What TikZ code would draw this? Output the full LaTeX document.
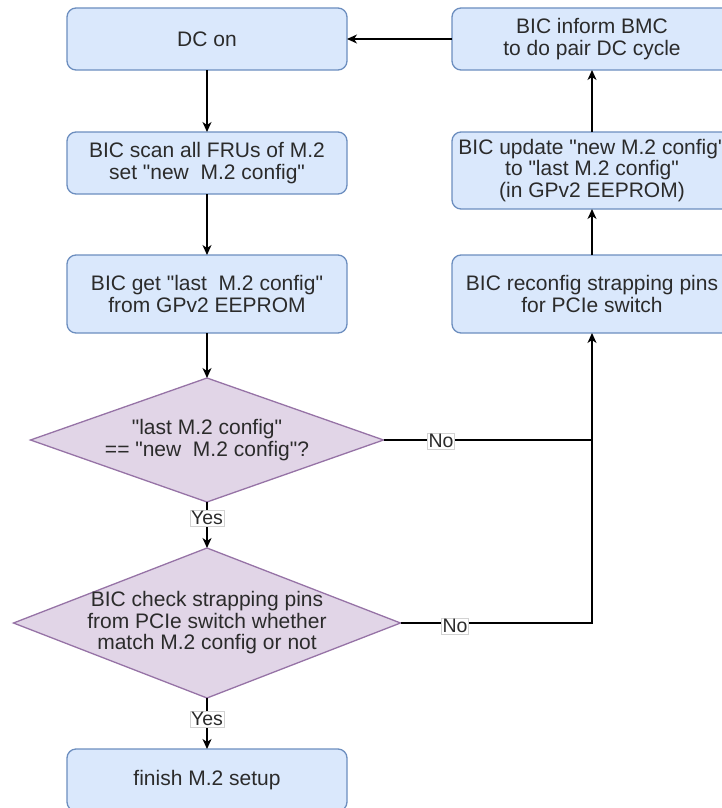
\documentclass[tikz,border=0pt]{standalone}
\usepackage{fontspec}
\setmainfont{Liberation Sans}[Ligatures=TeXOff]
\usetikzlibrary{shapes.geometric,arrows.meta}
\definecolor{boxfill}{HTML}{DAE8FC}
\definecolor{boxline}{HTML}{6C8EBF}
\definecolor{decfill}{HTML}{E1D5E7}
\definecolor{decline}{HTML}{9673A6}
\definecolor{txt}{HTML}{2B2B2B}
\begin{document}
\begin{tikzpicture}[x=1pt,y=-1pt,
  every node/.style={font=\fontsize{21}{21.5}\selectfont, text=txt},
  stepbox/.style={draw=boxline, fill=boxfill, line width=1.3pt, rounded corners=9pt,
    minimum width=280pt, minimum height=62pt, align=center, inner sep=0pt, outer sep=0pt},
  decision/.style={diamond, draw=decline, fill=decfill, line width=1.3pt,
    inner sep=0pt, outer sep=0pt},
  flow/.style={draw=black, line width=1.4pt, -{Stealth[length=10pt,width=9pt,inset=3pt]}},
  link/.style={draw=black, line width=1.4pt},
  lbl/.style={fill=white, draw=gray!35, line width=0.6pt, inner sep=1pt,
    font=\fontsize{19.5}{22}\selectfont}]
\useasboundingbox (0,0) rectangle (722,808);

% left column
\node[stepbox] (dcon) at (207,39) {DC on};
\node[stepbox] (scan) at (207,163) {BIC scan all FRUs of M.2\\set "new\ \ M.2 config"};
\node[stepbox, minimum height=78pt] (get) at (207,294) {BIC get "last\ \ M.2 config"\\from GPv2 EEPROM};
\node[decision, minimum width=353pt, minimum height=124pt] (d1) at (207,440) {};
\node[align=center] (d1t) at (d1.center) {"last M.2 config"\\== "new\ \ M.2 config"?};
\node[decision, minimum width=387pt, minimum height=150pt] (d2) at (207,623) {};
\node[align=center] (d2t) at (d2.center) {BIC check strapping pins\\from PCIe switch whether\\match M.2 config or not};
\node[stepbox] (finish) at (207,780) {finish M.2 setup};

% right column
\node[stepbox] (inform) at (592,39) {BIC inform BMC\\to do pair DC cycle};
\node[stepbox, minimum height=77pt] (update) at (592,170.5) {BIC update "new M.2 config"\\to "last M.2 config"\\(in GPv2 EEPROM)};
\node[stepbox, minimum height=78pt] (reconfig) at (592,294) {BIC reconfig strapping pins\\for PCIe switch};

\coordinate (j1) at (592,440);
\coordinate (j2) at (592,623);

% main flow
\draw[flow] (dcon) -- (scan);
\draw[flow] (scan) -- (get);
\draw[flow] (get) -- (d1);
\draw[flow] (d1.south) -- (d2.north);
\draw[flow] (d2.south) -- (finish);
\node[lbl] (yes1) at (207,518) {Yes};
\node[lbl] (yes2) at (207,719) {Yes};

% reconfiguration loop
\draw[link] (d1.east) -- (j1);
\draw[flow] (d2.east) -- (j2) -- (reconfig.south);
\node[lbl] (no1) at (441,441) {No};
\node[lbl] (no2) at (455,626) {No};
\draw[flow] (reconfig) -- (update);
\draw[flow] (update) -- (inform);
\draw[flow] (inform) -- (dcon);
\end{tikzpicture}
\end{document}
